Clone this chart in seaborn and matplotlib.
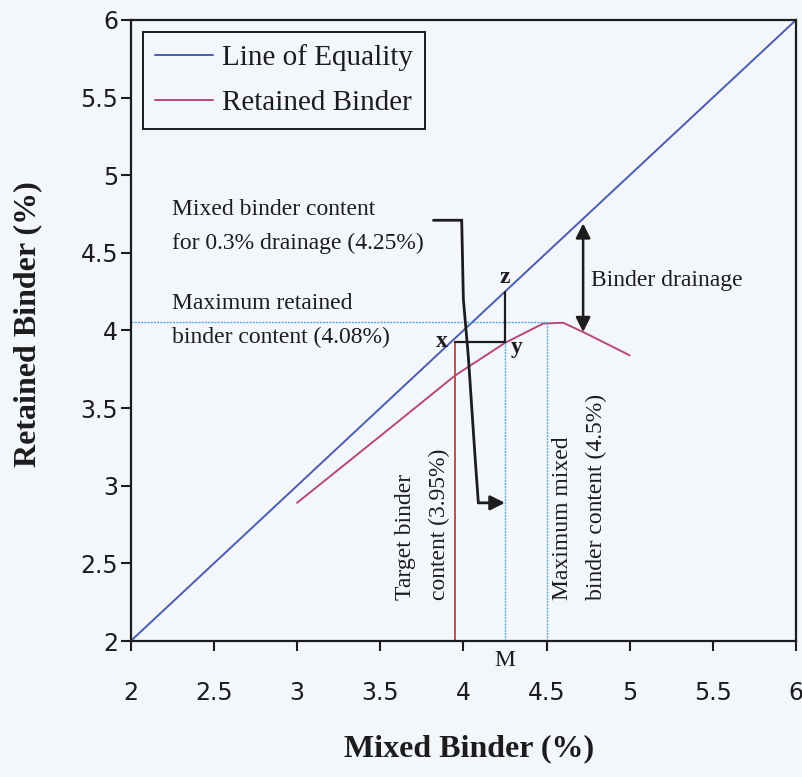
import matplotlib
matplotlib.use('Agg')
import matplotlib.pyplot as plt
import seaborn as sns
import pandas as pd

# ---- data ----
equality_x = [2, 6]
equality_y = [2, 6]
mixed_binder = [3.0, 3.5, 3.95, 4.25, 4.48, 4.6, 4.73, 5.0]
retained_binder = [2.89, 3.32, 3.71, 3.92, 4.045, 4.05, 3.985, 3.84]
target_binder = 3.95
drainage_mixed = 4.25
max_mixed = 4.5
max_retained = 4.057
xy_level = 3.925
drainage_arrow_x = 4.72
drainage_arrow_y = [3.99, 4.69]
bracket_x = [3.82, 3.99, 4.0, 4.03, 4.05, 4.07, 4.09]
bracket_y = [4.71, 4.71, 4.2, 3.83, 3.51, 3.19, 2.89]
x_ticks = [2, 2.5, 3, 3.5, 4, 4.5, 5, 5.5, 6]
y_ticks = [2, 2.5, 3, 3.5, 4, 4.5, 5, 5.5, 6]
tick_labels = ['2', '2.5', '3', '3.5', '4', '4.5', '5', '5.5', '6']

sns.set_style('ticks')
plt.rcParams['font.family'] = ['DejaVu Sans']

bg = '#f3f6fb'
blue = '#4c5cb0'
pink = '#b8487c'
red = '#c0504a'
cyan = '#5aa8d8'
ink = '#1c1c1c'
serif = 'Liberation Serif'

fig = plt.figure(figsize=(8.03, 7.77), dpi=100, facecolor=bg)
ax = fig.add_axes([0.1628, 0.175, 0.8285, 0.7993])
ax.set_facecolor(bg)

eq_df = pd.DataFrame({'x': equality_x, 'y': equality_y})
rb_df = pd.DataFrame({'x': mixed_binder, 'y': retained_binder})
sns.lineplot(data=eq_df, x='x', y='y', ax=ax, color=blue, lw=1.4, label='Line of Equality')
sns.lineplot(data=rb_df, x='x', y='y', ax=ax, color=pink, lw=1.4, label='Retained Binder')

# reference lines
ax.plot([target_binder, target_binder], [2, xy_level], color=red, lw=1.4)
ax.plot([drainage_mixed, drainage_mixed], [2, xy_level], color=cyan, lw=1.0, ls=(0, (1.5, 0.8)))
ax.plot([max_mixed, max_mixed], [2, max_retained], color=cyan, lw=1.0, ls=(0, (1.5, 0.8)))
ax.plot([2, max_mixed], [max_retained, max_retained], color=cyan, lw=1.0, ls=(0, (1.5, 0.8)))
ax.plot([target_binder, drainage_mixed], [xy_level, xy_level], color=ink, lw=1.6)
ax.plot([drainage_mixed, drainage_mixed], [xy_level, drainage_mixed], color=ink, lw=1.6)

# bracket leading to M
ax.plot(bracket_x, bracket_y, color=ink, lw=2.0, solid_joinstyle='miter')
ax.annotate('', xy=(drainage_mixed, bracket_y[-1]), xytext=(bracket_x[-1], bracket_y[-1]),
            arrowprops=dict(arrowstyle='-|>', color=ink, lw=2.0, mutation_scale=22,
                            shrinkA=0, shrinkB=0))

# binder drainage double arrow
ax.annotate('', xy=(drainage_arrow_x, drainage_arrow_y[1]), xytext=(drainage_arrow_x, drainage_arrow_y[0]),
            arrowprops=dict(arrowstyle='<|-|>', color=ink, lw=1.8, mutation_scale=22,
                            shrinkA=0, shrinkB=0))

tkw = dict(family=serif, fontsize=17, color=ink)
ax.text(2.247, 4.85, 'Mixed binder content\nfor 0.3% drainage (4.25%)', ha='left', va='top',
        linespacing=1.8, **tkw)
ax.text(2.247, 4.24, 'Maximum retained\nbinder content (4.08%)', ha='left', va='top',
        linespacing=1.8, **tkw)
ax.text(4.767, 4.325, 'Binder drainage', ha='left', va='center', **tkw)
ax.text(3.755, 2.264, 'Target binder\ncontent (3.95%)', rotation=90, ha='center', va='bottom',
        multialignment='left', linespacing=1.8, **tkw)
ax.text(4.70, 2.264, 'Maximum mixed\nbinder content (4.5%)', rotation=90, ha='center', va='bottom',
        multialignment='left', linespacing=1.8, **tkw)
ax.text(3.87, 3.93, 'x', ha='center', va='center', family=serif, fontsize=17, fontweight='bold', color=ink)
ax.text(4.32, 3.89, 'y', ha='center', va='center', family=serif, fontsize=17, fontweight='bold', color=ink)
ax.text(4.25, 4.34, 'z', ha='center', va='center', family=serif, fontsize=17, fontweight='bold', color=ink)
ax.text(drainage_mixed, 1.872, 'M', ha='center', va='center', clip_on=False, **tkw)

ax.set_xlim(2, 6)
ax.set_ylim(2, 6)
ax.set_xticks(x_ticks)
ax.set_xticklabels(tick_labels)
ax.set_yticks(y_ticks)
ax.set_yticklabels(tick_labels)
ax.tick_params(axis='x', direction='out', length=7, width=1.5, pad=22, labelsize=17, colors=ink)
ax.tick_params(axis='y', direction='out', length=7, width=1.5, pad=2, labelsize=17, colors=ink)
for s in ax.spines.values():
    s.set_visible(True)
    s.set_color(ink)
    s.set_linewidth(1.6)

ax.set_xlabel('Mixed Binder (%)', family=serif, fontsize=23, fontweight='bold', color=ink)
ax.set_ylabel('Retained Binder (%)', family=serif, fontsize=23, fontweight='bold', color=ink)
ax.xaxis.set_label_coords(0.508, -0.150)
ax.yaxis.set_label_coords(-0.133, 0.51)

leg = ax.legend(loc='upper left', bbox_to_anchor=(0.018, 0.981), frameon=True, fancybox=False,
                edgecolor=ink, framealpha=1, facecolor=bg,
                prop={'family': serif, 'size': 21}, handlelength=2.0, handletextpad=0.3,
                borderpad=0.42, labelspacing=0.65, borderaxespad=0)
leg.get_frame().set_linewidth(1.4)
for t in leg.get_texts():
    t.set_color(ink)

fig.savefig('out.png', dpi=100, facecolor=bg)
